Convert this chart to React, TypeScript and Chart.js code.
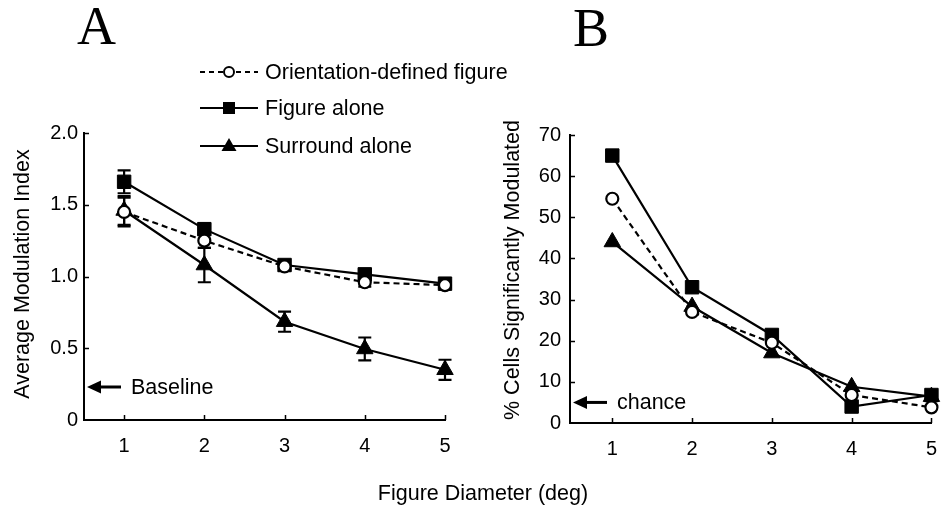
import React, { useEffect, useRef } from 'react';
import { Chart, registerables } from 'chart.js';
Chart.register(...registerables);

// ---- data ----
const diameters = [1, 2, 3, 4, 5];
const seriesLabels = ['Orientation-defined figure', 'Figure alone', 'Surround alone'];

const modOrientation = [1.45, 1.25, 1.07, 0.96, 0.94];
const modFigure = [1.66, 1.33, 1.08, 1.015, 0.95];
const modSurround = [1.46, 1.08, 0.685, 0.495, 0.35];
const errOrientation = [0.1, 0.05, 0.03, 0.03, 0.02];
const errFigure = [0.08, 0.04, 0.03, 0.03, 0.02];
const errSurround = [0.1, 0.12, 0.07, 0.08, 0.07];

const pctOrientation = [54.5, 27, 19.5, 6.8, 3.8];
const pctFigure = [65, 33, 21.4, 4, 6.8];
const pctSurround = [44, 28.3, 17, 8.8, 6.4];

const xTicks = [1, 2, 3, 4, 5];
const modTicks = [0, 0.5, 1, 1.5, 2];
const pctTicks = [0, 10, 20, 30, 40, 50, 60, 70];
const baselineValue = 0.23;
const chanceValue = 5;

const W = 951;
const H = 508;
const SANS = '"Liberation Sans", Arial, Helvetica, sans-serif';
const SERIF = '"Liberation Serif", "Times New Roman", serif';
const TEXT_SIZE = 21.5;
const TICK_SIZE = 20;

const toPts = (ys: number[]) => diameters.map((x, i) => ({ x, y: ys[i] }));

const styleOrientation = {
  borderColor: '#000',
  backgroundColor: '#fff',
  borderWidth: 2.2,
  borderDash: [6, 4],
  pointStyle: 'circle',
  pointRadius: 6,
  pointBorderWidth: 2.2,
  pointBackgroundColor: '#fff',
  pointBorderColor: '#000',
  clip: false as any,
};
const styleFigure = {
  borderColor: '#000',
  backgroundColor: '#000',
  borderWidth: 2.2,
  pointStyle: 'rect',
  pointRadius: 9.5,
  pointBorderWidth: 1,
  pointBackgroundColor: '#000',
  pointBorderColor: '#000',
  clip: false as any,
};
const styleSurround = {
  borderColor: '#000',
  backgroundColor: '#000',
  borderWidth: 2.2,
  pointStyle: 'triangle',
  pointRadius: 9.5,
  pointBorderWidth: 1,
  pointBackgroundColor: '#000',
  pointBorderColor: '#000',
  clip: false as any,
};

function drawMarker(ctx: CanvasRenderingContext2D, kind: string, x: number, y: number) {
  ctx.save();
  ctx.lineWidth = 2;
  ctx.strokeStyle = '#000';
  ctx.setLineDash([]);
  if (kind === 'circle') {
    ctx.fillStyle = '#fff';
    ctx.beginPath();
    ctx.arc(x, y, 5, 0, Math.PI * 2);
    ctx.fill();
    ctx.stroke();
  } else if (kind === 'rect') {
    ctx.fillStyle = '#000';
    ctx.fillRect(x - 6, y - 6, 12, 12);
  } else {
    ctx.fillStyle = '#000';
    ctx.beginPath();
    ctx.moveTo(x, y - 8);
    ctx.lineTo(x + 7.5, y + 5);
    ctx.lineTo(x - 7.5, y + 5);
    ctx.closePath();
    ctx.fill();
  }
  ctx.restore();
}

function drawAxesTicks(chart: any, yTickVals: number[]) {
  const ctx = chart.ctx as CanvasRenderingContext2D;
  const xs = chart.scales.x;
  const ys = chart.scales.y;
  const ca = chart.chartArea;
  ctx.save();
  ctx.strokeStyle = '#000';
  ctx.lineWidth = 1.5;
  ctx.beginPath();
  xTicks.forEach((v) => {
    const px = Math.round(xs.getPixelForValue(v)) + 0.5;
    ctx.moveTo(px, ca.bottom);
    ctx.lineTo(px, ca.bottom - 5);
  });
  yTickVals.forEach((v) => {
    if (v === 0) return;
    const py = Math.round(ys.getPixelForValue(v)) + 0.5;
    ctx.moveTo(ca.left, py);
    ctx.lineTo(ca.left + 5, py);
  });
  ctx.stroke();
  ctx.restore();
}

function drawArrow(chart: any, value: number, text: string, len: number) {
  const ctx = chart.ctx as CanvasRenderingContext2D;
  const ys = chart.scales.y;
  const ca = chart.chartArea;
  const y = ys.getPixelForValue(value);
  const tip = ca.left + 3;
  ctx.save();
  ctx.strokeStyle = '#000';
  ctx.fillStyle = '#000';
  ctx.lineWidth = 3;
  ctx.beginPath();
  ctx.moveTo(tip + 10, y);
  ctx.lineTo(tip + len, y);
  ctx.stroke();
  ctx.beginPath();
  ctx.moveTo(tip, y);
  ctx.lineTo(tip + 14, y - 6.5);
  ctx.lineTo(tip + 14, y + 6.5);
  ctx.closePath();
  ctx.fill();
  ctx.font = `${TEXT_SIZE}px ${SANS}`;
  ctx.textAlign = 'left';
  ctx.textBaseline = 'middle';
  ctx.fillText(text, tip + len + 10, y + 1);
  ctx.restore();
}

function drawYTitle(ctx: CanvasRenderingContext2D, text: string, x: number, y: number) {
  ctx.save();
  ctx.translate(x, y);
  ctx.rotate(-Math.PI / 2);
  ctx.font = `${TEXT_SIZE}px ${SANS}`;
  ctx.fillStyle = '#000';
  ctx.textAlign = 'center';
  ctx.textBaseline = 'middle';
  ctx.fillText(text, 0, 0);
  ctx.restore();
}

const errorBarsPlugin = {
  id: 'errorBarsA',
  beforeDatasetsDraw(chart: any) {
    const ctx = chart.ctx as CanvasRenderingContext2D;
    const xs = chart.scales.x;
    const ys = chart.scales.y;
    const sets: [number[], number[]][] = [
      [modOrientation, errOrientation],
      [modFigure, errFigure],
      [modSurround, errSurround],
    ];
    ctx.save();
    ctx.strokeStyle = '#000';
    ctx.lineWidth = 2.2;
    sets.forEach(([vals, errs]) => {
      vals.forEach((v, i) => {
        const px = xs.getPixelForValue(diameters[i]);
        const top = ys.getPixelForValue(v + errs[i]);
        const bot = ys.getPixelForValue(v - errs[i]);
        ctx.beginPath();
        ctx.moveTo(px, top);
        ctx.lineTo(px, bot);
        ctx.moveTo(px - 6.5, top);
        ctx.lineTo(px + 6.5, top);
        ctx.moveTo(px - 6.5, bot);
        ctx.lineTo(px + 6.5, bot);
        ctx.stroke();
      });
    });
    ctx.restore();
  },
};

const decorA = {
  id: 'decorA',
  afterDraw(chart: any) {
    const ctx = chart.ctx as CanvasRenderingContext2D;
    drawAxesTicks(chart, modTicks);
    drawArrow(chart, baselineValue, 'Baseline', 34);
    drawYTitle(ctx, 'Average Modulation Index', 23, 274);
    // panel letters
    ctx.save();
    ctx.fillStyle = '#000';
    ctx.font = `54px ${SERIF}`;
    ctx.textAlign = 'left';
    ctx.textBaseline = 'alphabetic';
    ctx.fillText('A', 77, 44);
    ctx.fillText('B', 573, 46);
    // shared x title
    ctx.font = `${TEXT_SIZE}px ${SANS}`;
    ctx.textAlign = 'center';
    ctx.textBaseline = 'middle';
    ctx.fillText('Figure Diameter (deg)', 483, 494);
    ctx.restore();
    // legend
    const rows = [72, 108, 146];
    const kinds = ['circle', 'rect', 'triangle'];
    rows.forEach((ry, i) => {
      ctx.save();
      ctx.strokeStyle = '#000';
      ctx.lineWidth = 2;
      ctx.setLineDash(i === 0 ? [5, 4] : []);
      ctx.beginPath();
      ctx.moveTo(200, ry);
      ctx.lineTo(258, ry);
      ctx.stroke();
      ctx.restore();
      drawMarker(ctx, kinds[i], 229, ry);
      ctx.save();
      ctx.fillStyle = '#000';
      ctx.font = `${TEXT_SIZE}px ${SANS}`;
      ctx.textAlign = 'left';
      ctx.textBaseline = 'middle';
      ctx.fillText(seriesLabels[i], 265, ry + 1);
      ctx.restore();
    });
  },
};

const decorB = {
  id: 'decorB',
  afterDraw(chart: any) {
    const ctx = chart.ctx as CanvasRenderingContext2D;
    drawAxesTicks(chart, pctTicks);
    drawArrow(chart, chanceValue, 'chance', 34);
    drawYTitle(ctx, '% Cells Significantly Modulated', 513, 270);
  },
};

function makeScales(xMin: number, yMin: number, yMax: number, yTickVals: number[], yWidth: number, xHeight: number, yPad: number, fmt: (v: number) => string) {
  return {
    x: {
      type: 'linear' as const,
      min: xMin,
      max: 5,
      afterBuildTicks: (s: any) => {
        s.ticks = xTicks.map((v) => ({ value: v }));
      },
      afterFit: (s: any) => {
        s.height = xHeight;
      },
      grid: { display: false, drawTicks: false },
      border: { display: true, color: '#000', width: 2 },
      ticks: { color: '#000', font: { family: SANS, size: TICK_SIZE }, padding: 14, maxRotation: 0 },
    },
    y: {
      type: 'linear' as const,
      min: yMin,
      max: yMax,
      afterBuildTicks: (s: any) => {
        s.ticks = yTickVals.map((v) => ({ value: v }));
      },
      afterFit: (s: any) => {
        s.width = yWidth;
      },
      grid: { display: false, drawTicks: false },
      border: { display: true, color: '#000', width: 2 },
      ticks: { color: '#000', font: { family: SANS, size: TICK_SIZE }, padding: yPad, callback: (v: any) => fmt(Number(v)) },
    },
  };
}

export default function App() {
  const refA = useRef<HTMLCanvasElement>(null);
  const refB = useRef<HTMLCanvasElement>(null);

  useEffect(() => {
    const chartA = new Chart(refA.current!, {
      type: 'line',
      data: {
        datasets: [
          { label: seriesLabels[0], data: toPts(modOrientation), ...styleOrientation } as any,
          { label: seriesLabels[1], data: toPts(modFigure), ...styleFigure } as any,
          { label: seriesLabels[2], data: toPts(modSurround), ...styleSurround } as any,
        ],
      },
      options: {
        responsive: false,
        animation: false,
        devicePixelRatio: 1,
        layout: { padding: { left: 0, top: 133, right: W - 445, bottom: 0 } },
        plugins: { legend: { display: false }, tooltip: { enabled: false } },
        scales: makeScales(0.5, 0, 2, modTicks, 84, H - 420, 6, (v) => (v === 0 ? '0' : v.toFixed(1))) as any,
      },
      plugins: [errorBarsPlugin, decorA],
    });
    const chartB = new Chart(refB.current!, {
      type: 'line',
      data: {
        datasets: [
          { label: seriesLabels[0], data: toPts(pctOrientation), ...styleOrientation } as any,
          { label: seriesLabels[1], data: toPts(pctFigure), ...styleFigure } as any,
          { label: seriesLabels[2], data: toPts(pctSurround), ...styleSurround } as any,
        ],
      },
      options: {
        responsive: false,
        animation: false,
        devicePixelRatio: 1,
        layout: { padding: { left: 480, top: 135, right: W - 935, bottom: 0 } },
        plugins: { legend: { display: false }, tooltip: { enabled: false } },
        scales: makeScales(0.47, 0, 70, pctTicks, 570 - 480, H - 423, 9, (v) => String(v)) as any,
      },
      plugins: [decorB],
    });
    return () => {
      chartA.destroy();
      chartB.destroy();
    };
  }, []);

  return (
    <div style={{ position: 'fixed', left: 0, top: 0, width: W, height: H, background: '#fff' }}>
      <canvas ref={refA} width={W} height={H} style={{ position: 'absolute', left: 0, top: 0 }} />
      <canvas ref={refB} width={W} height={H} style={{ position: 'absolute', left: 0, top: 0 }} />
    </div>
  );
}
